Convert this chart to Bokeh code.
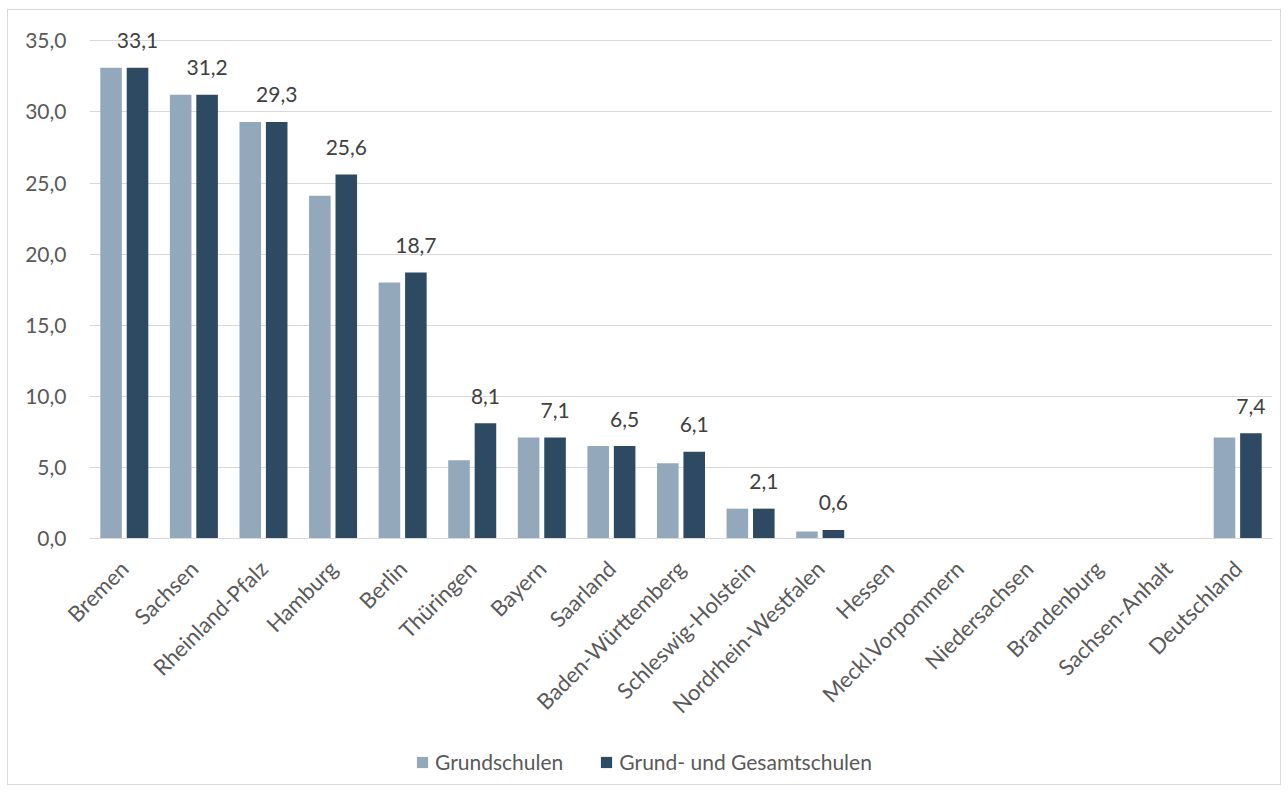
import math
from bokeh.plotting import figure
from bokeh.layouts import column
from bokeh.models import ColumnDataSource, FactorRange, Range1d, Legend, LegendItem, SingleIntervalTicker, CustomJSTickFormatter
from bokeh.transform import dodge
from bokeh.core.properties import value
from bokeh.embed import file_html
from bokeh.resources import INLINE

NAN = float("nan")
laender = ["Bremen", "Sachsen", "Rheinland-Pfalz", "Hamburg", "Berlin", "Thüringen", "Bayern",
           "Saarland", "Baden-Württemberg", "Schleswig-Holstein", "Nordrhein-Westfalen", "Hessen",
           "Meckl.Vorpommern", "Niedersachsen", "Brandenburg", "Sachsen-Anhalt", "Deutschland"]
grundschulen = [33.1, 31.2, 29.3, 24.1, 18.0, 5.5, 7.1, 6.5, 5.3, 2.1, 0.5, NAN, NAN, NAN, NAN, NAN, 7.1]
grund_gesamt = [33.1, 31.2, 29.3, 25.6, 18.7, 8.1, 7.1, 6.5, 6.1, 2.1, 0.6, NAN, NAN, NAN, NAN, NAN, 7.4]
series_names = ["Grundschulen", "Grund- und Gesamtschulen"]
labels = ["" if math.isnan(v) else f"{v:.1f}".replace(".", ",") for v in grund_gesamt]

FONT = "Lato"
FS = "21px"
C_LIGHT = "#94A8BC"
C_DARK = "#2E4962"
TXT = "#595959"

src = ColumnDataSource(dict(x=laender, g=grundschulen, gg=grund_gesamt, lab=labels))

# main chart (y range slightly above 35 so the top value label is not clipped)
p = figure(width=1272, height=720, x_range=FactorRange(*laender), y_range=Range1d(0, 36.5),
           output_backend="svg", toolbar_location=None,
           min_border_left=81, min_border_right=8, min_border_top=9, min_border_bottom=192)
p.outline_line_color = None

r1 = p.vbar(x=dodge("x", -0.19, range=p.x_range), top="g", width=0.31, source=src,
            fill_color=C_LIGHT, line_color=None)
r2 = p.vbar(x=dodge("x", 0.19, range=p.x_range), top="gg", width=0.31, source=src,
            fill_color=C_DARK, line_color=None)

p.text(x=dodge("x", 0.19, range=p.x_range), y="gg", text="lab", source=src,
       text_align="center", text_baseline="alphabetic", y_offset=-27,
       text_font=value(FONT), text_font_size=FS, text_color="#404040")

p.yaxis.ticker = SingleIntervalTicker(interval=5)
p.yaxis.formatter = CustomJSTickFormatter(code="return tick.toFixed(1).replace('.', ',');")
p.yaxis.axis_line_color = None
p.yaxis.major_tick_line_color = None
p.yaxis.minor_tick_line_color = None
p.yaxis.major_label_standoff = 17
p.yaxis.major_label_text_font = FONT
p.yaxis.major_label_text_font_size = FS
p.yaxis.major_label_text_color = TXT

p.xaxis.axis_line_color = "#d9d9d9"
p.xaxis.major_tick_line_color = None
p.xaxis.minor_tick_line_color = None
p.xaxis.major_label_orientation = math.pi / 4
p.xaxis.major_label_standoff = 20
p.xaxis.major_label_text_font = FONT
p.xaxis.major_label_text_font_size = "22px"
p.xaxis.major_label_text_color = TXT

p.xgrid.grid_line_color = None
p.ygrid.grid_line_color = "#d9d9d9"
p.ygrid.grid_line_width = 1

# legend strip
q = figure(width=1272, height=54, x_range=Range1d(0, 1), y_range=Range1d(0, 1),
           x_axis_type=None, y_axis_type=None, output_backend="svg", toolbar_location=None,
           min_border_left=0, min_border_right=0, min_border_top=0, min_border_bottom=0)
q.outline_line_color = None
q.grid.visible = False
hidden = ColumnDataSource(dict(x=[0.5], top=[NAN]))
l1 = q.vbar(x="x", top="top", width=0.1, source=hidden, fill_color=C_LIGHT, line_color=None)
l2 = q.vbar(x="x", top="top", width=0.1, source=hidden, fill_color=C_DARK, line_color=None)
legend = Legend(items=[LegendItem(label=series_names[0], renderers=[l1]),
                       LegendItem(label=series_names[1], renderers=[l2])],
                orientation="horizontal", location=(326, 10),
                glyph_width=14, glyph_height=14, label_standoff=6, spacing=36,
                padding=2, margin=0, border_line_color=None, background_fill_alpha=0,
                label_text_font=FONT, label_text_font_size=FS, label_text_color=TXT)
q.add_layout(legend, "center")

layout = column(p, q, spacing=0)
layout.styles = {"border": "1px solid #d9d9d9", "margin-left": "7px", "margin-top": "9px"}

open("out.html", "w").write(file_html(layout, INLINE))
